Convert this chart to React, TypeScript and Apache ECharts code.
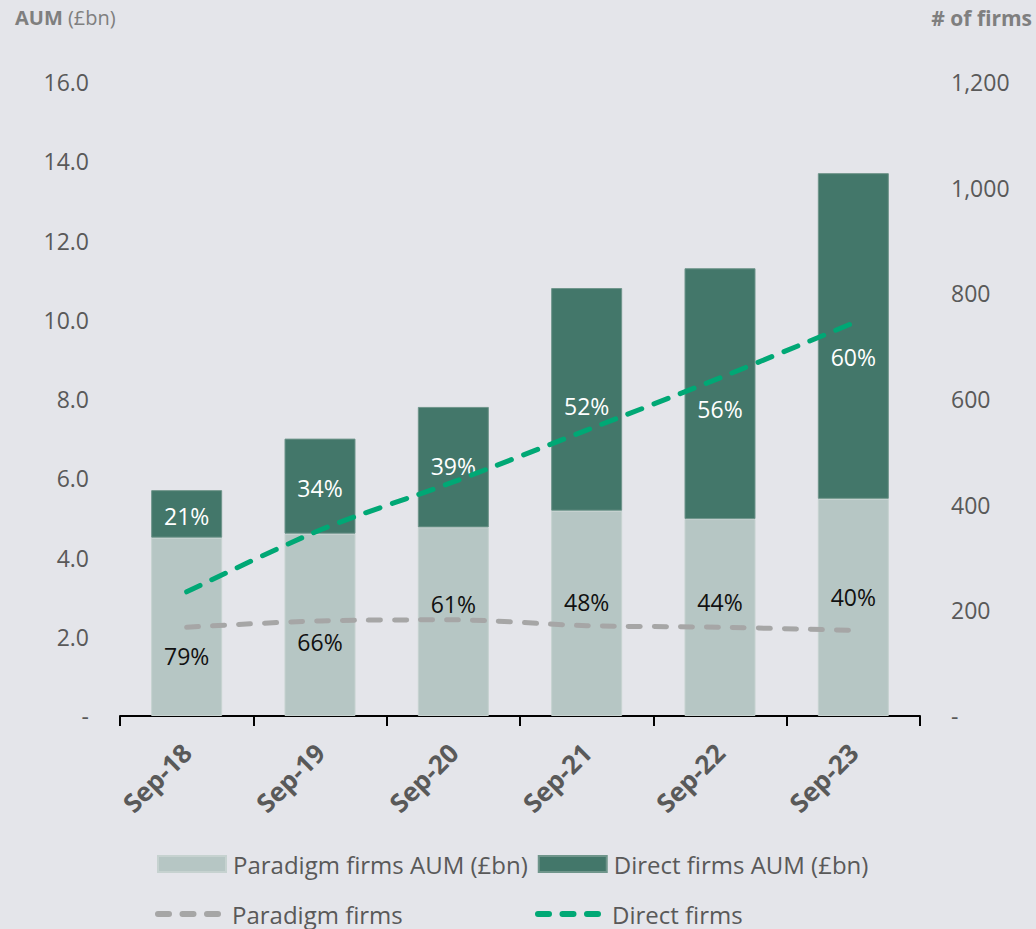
import React, { useEffect, useRef } from 'react';
import * as echarts from 'echarts';

const categories = ['Sep-18', 'Sep-19', 'Sep-20', 'Sep-21', 'Sep-22', 'Sep-23'];
const paradigmAUM = [4.5, 4.6, 4.76, 5.18, 4.97, 5.48];
const directAUM = [1.2, 2.4, 3.04, 5.62, 6.33, 8.22];
const totalAUM = [5.7, 7.0, 7.8, 10.8, 11.3, 13.7];
const paradigmShare = [79, 66, 61, 48, 44, 40];
const directShare = [21, 34, 39, 52, 56, 60];
const paradigmFirms = [168, 180, 182, 171, 168, 162];
const directFirms = [235, 352, 443, 541, 640, 744];

// label nudges (pixels) to mirror the hand-placed labels in the original
const paradigmLabelShift = [29, 17, -18, -11, -16, -10];
const directLabelShift = [2, 2, -1, 7, 15, 21];

const FONT = '"Open Sans", "Noto Sans", sans-serif';
const BG = '#e4e5ea';
const PARADIGM_BAR = '#b6c6c4';
const DIRECT_BAR = '#43776a';
const PARADIGM_LINE = '#a6a6a6';
const DIRECT_LINE = '#00a875';
const AXIS_TEXT = '#595959';

// legend icon: three rounded dashes
function dashIcon(): string {
  const parts: string[] = [];
  for (let i = 0; i < 3; i++) {
    const a = i * 24.5;
    const b = a + 17;
    parts.push(`M${a + 3},0 L${b - 3},0 A3,3 0 0 1 ${b - 3},6 L${a + 3},6 A3,3 0 0 1 ${a + 3},0 Z`);
  }
  return 'path://' + parts.join(' ');
}

export default function App() {
  const ref = useRef<HTMLDivElement>(null);
  useEffect(() => {
    if (!ref.current) return;
    const chart = echarts.init(ref.current, undefined, { renderer: 'svg' });
    const lineLegend = {
      itemWidth: 66,
      itemHeight: 6,
      itemGap: 10,
      padding: 0,
      icon: dashIcon(),
      textStyle: { fontFamily: FONT, fontSize: 24, color: AXIS_TEXT, padding: [0, 0, 0, 6] },
    };
    const option: any = {
      animation: false,
      backgroundColor: BG,
      textStyle: { fontFamily: FONT },
      title: [
        {
          text: '{b|AUM}{n| (£bn)}',
          left: 15,
          top: 7,
          padding: 0,
          textStyle: {
            rich: {
              b: { fontFamily: FONT, fontSize: 20, fontWeight: 'bold', color: '#7f7f7f' },
              n: { fontFamily: FONT, fontSize: 20, fontWeight: 'normal', color: '#7f7f7f' },
            },
          },
        },
        {
          text: '# of firms',
          right: 4,
          top: 7,
          padding: 0,
          textStyle: { fontFamily: FONT, fontSize: 21, fontWeight: 'bold', color: '#7f7f7f' },
        },
      ],
      grid: { left: 120, right: 116, top: 82, bottom: 213, containLabel: false },
      legend: [
        {
          data: ['Paradigm firms AUM (£bn)', 'Direct firms AUM (£bn)'],
          left: 157,
          top: 852,
          itemWidth: 68,
          itemHeight: 16,
          itemGap: 10,
          padding: 0,
          icon: 'rect',
          textStyle: { fontFamily: FONT, fontSize: 24, color: AXIS_TEXT, padding: [0, 0, 0, 2] },
        },
        { ...lineLegend, data: ['Paradigm firms'], left: 155, top: 902 },
        { ...lineLegend, data: ['Direct firms'], left: 535, top: 902 },
      ],
      xAxis: {
        type: 'category',
        data: categories,
        boundaryGap: true,
        axisLine: { lineStyle: { color: '#000', width: 2 } },
        axisTick: { show: true, length: 10, lineStyle: { color: '#000', width: 2 } },
        axisLabel: {
          rotate: 45,
          margin: 32,
          fontFamily: FONT,
          fontSize: 26,
          fontWeight: 'bold',
          color: AXIS_TEXT,
        },
      },
      yAxis: [
        {
          type: 'value',
          min: 0,
          max: 16,
          interval: 2,
          splitLine: { show: false },
          axisLine: { show: false },
          axisTick: { show: false },
          axisLabel: {
            margin: 31,
            fontFamily: FONT,
            fontSize: 23,
            color: AXIS_TEXT,
            formatter: (v: number) => (v === 0 ? '-' : v.toFixed(1)),
          },
        },
        {
          type: 'value',
          min: 0,
          max: 1200,
          interval: 200,
          splitLine: { show: false },
          axisLine: { show: false },
          axisTick: { show: false },
          axisLabel: {
            margin: 31,
            fontFamily: FONT,
            fontSize: 23,
            color: AXIS_TEXT,
            formatter: (v: number) => (v === 0 ? '-' : v.toLocaleString('en-US')),
          },
        },
      ],
      series: [
        {
          name: 'Paradigm firms AUM (£bn)',
          type: 'bar',
          stack: 'aum',
          barWidth: 71,
          itemStyle: { color: PARADIGM_BAR, borderColor: '#c6d2d0', borderWidth: 1 },
          data: paradigmAUM.map((v, i) => ({
            value: v,
            label: { offset: [0, paradigmLabelShift[i]] },
          })),
          label: {
            show: true,
            position: 'inside',
            fontFamily: FONT,
            fontSize: 23,
            color: '#111',
            formatter: (p: any) => paradigmShare[p.dataIndex] + '%',
          },
          z: 2,
        },
        {
          name: 'Direct firms AUM (£bn)',
          type: 'bar',
          stack: 'aum',
          barWidth: 71,
          itemStyle: { color: DIRECT_BAR, borderColor: '#6f958b', borderWidth: 1 },
          data: directAUM.map((v, i) => ({
            value: v,
            label: { offset: [0, directLabelShift[i]] },
          })),
          label: {
            show: true,
            position: 'inside',
            fontFamily: FONT,
            fontSize: 23,
            color: '#ffffff',
            formatter: (p: any) => directShare[p.dataIndex] + '%',
          },
          z: 2,
        },
        {
          name: 'Total AUM',
          type: 'scatter',
          yAxisIndex: 0,
          symbolSize: 1,
          itemStyle: { opacity: 0 },
          data: totalAUM,
          label: {
            show: true,
            position: 'top',
            distance: 12,
            fontFamily: FONT,
            fontSize: 24,
            fontWeight: 'bold',
            color: '#000',
            formatter: (p: any) => '£' + totalAUM[p.dataIndex].toFixed(1) + 'bn',
          },
          z: 5,
        },
        {
          name: 'Paradigm firms',
          type: 'line',
          yAxisIndex: 1,
          smooth: 0.3,
          symbol: 'none',
          data: paradigmFirms,
          lineStyle: { color: PARADIGM_LINE, width: 5, type: [12, 14], cap: 'round' },
          itemStyle: { color: PARADIGM_LINE },
          z: 3,
        },
        {
          name: 'Direct firms',
          type: 'line',
          yAxisIndex: 1,
          smooth: 0.3,
          symbol: 'none',
          data: directFirms,
          lineStyle: { color: DIRECT_LINE, width: 5, type: [15, 13], cap: 'round' },
          itemStyle: { color: DIRECT_LINE },
          z: 3,
        },
      ],
    };
    chart.setOption(option);
    return () => chart.dispose();
  }, []);
  return (
    <div
      ref={ref}
      style={{ position: 'fixed', left: 0, top: 0, width: 1036, height: 929, background: BG }}
    />
  );
}
